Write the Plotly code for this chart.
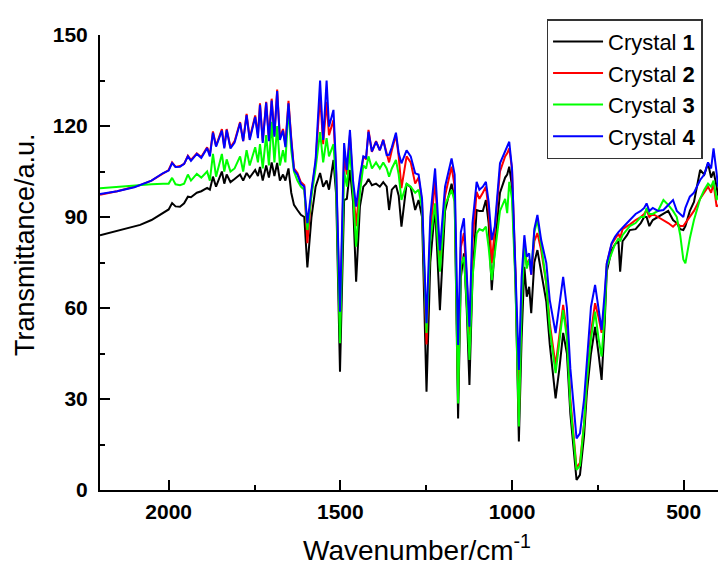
import plotly.graph_objects as go

wavenumber = [2200,2150,2100,2083,2050,2016,2000,1990,1980,1967,
 1955,1944,1935,1918,1905,1888,1880,1871,1862,1845,
 1838,1831,1820,1808,1792,1783,1773,1764,1748,1740,
 1734,1726,1716,1708,1700,1692,1684,1676,1667,1660,
 1651,1643,1635,1625,1615,1605,1596,1584,1572,1559,
 1550,1540,1533,1520,1512,1501,1489,1481,1472,1463,
 1454,1443,1433,1425,1418,1408,1396,1385,1375,1365,
 1358,1350,1338,1330,1322,1307,1295,1282,1272,1262,
 1249,1238,1224,1210,1195,1176,1167,1157,1149,1140,
 1132,1124,1115,1103,1095,1085,1076,1068,1059,1050,
 1035,1020,1014,1008,1000,990,980,972,964,957,
 950,944,935,926,915,900,890,873,862,851,
 840,830,812,802,790,782,770,758,748,739,
 730,724,710,700,690,685,678,665,657,640,
 625,615,608,600,590,575,559,545,531,520,
 510,501,495,482,470,452,440,429,420,413,
 404,400]

crystal1 = [84,85.5,87,87.4,89,91.4,92.5,94.6,93.5,93.4,
 94.5,96.7,96.5,98,98.5,99.6,99,103.3,100,105,
 101,104,101.5,102.5,104,102,104.5,103,105.5,103.5,
 106.5,102,107,103,108,103.5,107.8,102,104,102,
 106,98,94,92.3,90.7,90,73.4,90,100,104.5,
 100,102,99,108.8,97,39,95.6,96,105.5,95,
 68.7,93.4,100,101,102.5,100.5,101,100,101.5,100,
 92.3,99,100.5,97,86.8,101,99.8,92.3,95.6,90,
 32.4,75,93.4,59.3,92,101,96,23.6,70,78,
 60,34.6,70,92.3,92,92,95.6,88,65.9,80,
 98,103,104,106.6,100,70,16,50,73.6,63.7,
 67,58.3,75,79.1,71.5,62,48,30.2,40,51.8,
 45,25,3.3,5,18,32,45,53.8,45,36.3,
 55,72,79,81,82,72,82,84,85.7,86,
 88,90,90,87,89,90,91,92,89,88,
 86,85.7,87,92,95,105.5,104,107.7,103,105,
 100,97]

crystal2 = [97.3,98.5,100,100.5,102,104.5,105.5,108,106.5,106.8,
 107.5,110.2,108.8,111,109.8,113,110.5,118.2,113.5,119,
 113,119,113,115,121.3,115,124,116,123.5,117,
 127.5,115,128,116,129,117,132,116,119,114,
 128.3,116,106,104.5,101.5,100.5,81.4,98,108,130,
 114,128,117,122,104,55,110,104,117,100,
 87,101,110,109,118.7,111.5,115,112,115.5,111,
 108,112,117,110,99.5,110,108,101,103,95,
 48,85,102,75,97,106.6,100,32,80,84.7,
 70,51,82,98.3,96,98,100,92,74.8,86,
 105,110,111,112.6,106,72,24,65,82,74,
 76,71,82,84.7,79,68,55,41,52,61,
 52,30,7.3,9,22,36,52,61.6,57,51.8,
 62,74.5,81,83,84.5,83,86,87,87.5,89,
 90,91,92.3,90,91,90,89,88,86.8,88,
 87,87,88,90,92,96,98,100,98,101,
 93.4,94]

crystal3 = [99.5,100,100.3,100.5,100.8,101,101,102.9,100.8,100.5,
 101,104,102,104.2,103,105,102,110.8,103.3,110.8,
 105,109,105,106,110,105,112,107,113,108,
 114,106,117,107,121.4,108,120,107,112,108,
 126.4,112,105,102,100,99,85.7,97,106,118,
 108,116,110,114,100,48.4,105,100,112,98,
 80.2,98,107,106,110,106,108,106,108,106,
 103.3,106,108.8,104,95.6,101,100,98,99,93,
 51.8,82,94.5,72,94,98.9,95,28.5,74,76.9,
 62,42.9,70,84.6,86,85.5,86.8,80,69.2,78,
 92,96,91.3,101.6,96,68,20.9,60,81,73,
 76,72,85,89,81,68,53,38.5,50,59.3,
 50,28,6.6,8,22,36,50,58.8,50,44,
 58,73.6,78,81,83,82,84,86,87,88,
 90,90,93,91,91,92,95.6,94,92,90,
 84,76,74.7,83,89,96,99,101,100,102,
 95.6,97]

crystal4 = [97.6,98.5,99.8,100.5,102,104.5,105.3,107.8,106.5,106.6,
 107.5,110,108.5,110.8,109.5,112.7,110,117.8,113.2,118.5,
 112.6,118.7,112.6,114.5,121,115,123.6,115.4,123,116,
 127,114.4,127.7,115,128.4,116.5,131.5,115.4,118.5,113,
 127.5,115.4,105.5,104,101,100,88,98.9,108.8,135,
 115.4,135,119.8,125.3,105.5,58.8,114.4,105.5,118.7,102,
 93.4,103.3,110,109.5,118.1,111.6,114.8,112,115.4,110.4,
 110.5,113,117.8,111,107.7,112,110,104.4,104,96,
 55,90,106,79,100,109.3,104,47.8,85,89.6,
 73,53.8,88,101.6,99,100,101.6,95,82.4,87,
 107.7,112,113.5,114.8,106,75,39.6,70,84,76.9,
 78,71,86,90.7,82.4,74.8,62.6,51.7,62,70.3,
 60,40,17,18.7,30,41.8,60.4,67.6,60,52.8,
 65,74.7,81.3,83.5,85,85.7,86.5,88,89,91,
 92,93,94.5,92,93,92,92.3,94,95.6,92,
 91,90,93,96.7,98,102.2,104,108,106,112.6,
 104.5,100]

series_names = ["Crystal <b>1</b>", "Crystal <b>2</b>", "Crystal <b>3</b>", "Crystal <b>4</b>"]
series_values = [crystal1, crystal2, crystal3, crystal4]
series_colors = ["#000000", "#ff0000", "#00ff00", "#0000ff"]

x_ticks = [2000, 1500, 1000, 500]
y_ticks = [0, 30, 60, 90, 120, 150]

FONT = "Liberation Sans, Arial, sans-serif"

fig = go.Figure()
for name, vals, col in zip(series_names, series_values, series_colors):
    fig.add_trace(go.Scatter(x=wavenumber, y=vals, mode="lines", name=name,
                             line=dict(color=col, width=2)))

fig.update_layout(
    width=718, height=574,
    margin=dict(l=100, r=0, t=35, b=84),
    paper_bgcolor="white", plot_bgcolor="white",
    font=dict(family=FONT, color="black"),
    showlegend=True,
    legend=dict(x=0.975, y=1.035, xanchor="right", yanchor="top",
                bordercolor="#333333", borderwidth=1.5, bgcolor="white",
                font=dict(size=22, family=FONT, color="black"),
                itemwidth=50, tracegroupgap=0),
    xaxis=dict(range=[2200, 400], tickmode="array", tickvals=x_ticks,
               ticks="inside", ticklen=10, tickwidth=2, tickcolor="black",
               showline=True, linecolor="black", linewidth=2, mirror=False,
               showgrid=False, zeroline=False,
               tickfont=dict(size=21, family=FONT, weight="bold", color="black"),
               ticklabelstandoff=2,
               minor=dict(ticks="inside", ticklen=5, tickwidth=2, tickcolor="black", dtick=250, tick0=0, showgrid=False)),
    yaxis=dict(range=[0, 150], tickmode="array", tickvals=y_ticks,
               ticks="inside", ticklen=10, tickwidth=2, tickcolor="black",
               showline=True, linecolor="black", linewidth=2, mirror=False,
               showgrid=False, zeroline=False,
               tickfont=dict(size=21, family=FONT, weight="bold", color="black"),
               ticklabelstandoff=6,
               minor=dict(ticks="inside", ticklen=5, tickwidth=2, tickcolor="black", dtick=15, tick0=0, showgrid=False)),
    annotations=[
        dict(text="Transmittance/a.u.", xref="paper", yref="paper",
             x=(25 - 100) / 618, y=(490 - 245) / 455, xanchor="center", yanchor="middle",
             textangle=-90, showarrow=False, font=dict(size=27, family=FONT, color="black")),
        dict(text="Wavenumber/cm<sup>-1</sup>", xref="paper", yref="paper",
             x=(417 - 100) / 618, y=(490 - 548) / 455, xanchor="center", yanchor="middle",
             showarrow=False, font=dict(size=28, family=FONT, color="black")),
    ],
)

fig.write_html("out.html")
